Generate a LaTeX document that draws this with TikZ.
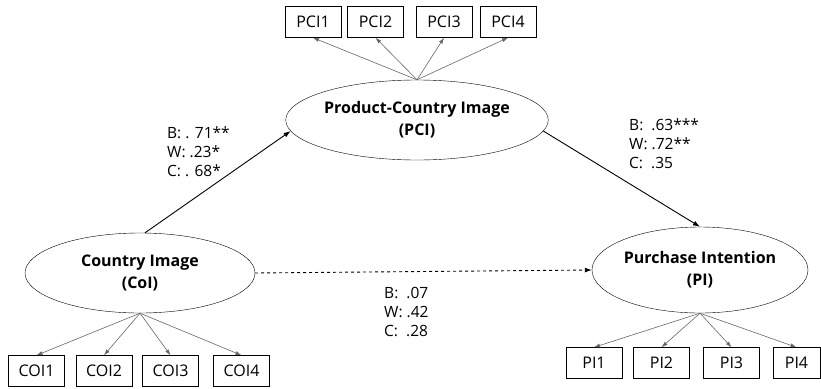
\documentclass[tikz,border=0pt]{standalone}
\usepackage{fontspec}
\setmainfont{Open Sans}
\usetikzlibrary{shapes.geometric,arrows.meta}
\begin{document}
\begin{tikzpicture}[x=1pt,y=-1pt,
    latent/.style={draw,ellipse,inner sep=0pt,font=\fontsize{16}{22}\selectfont\bfseries,align=center},
    item/.style={draw,minimum width=56pt,minimum height=31pt,inner sep=0pt,font=\fontsize{16}{19}\selectfont},
    load/.style={draw=gray!80!black,line width=0.6pt,-{Latex[length=6pt,width=4pt]}},
    path/.style={line width=0.9pt,-{Latex[length=7pt,width=5pt]}},
    coef/.style={anchor=north west,inner sep=0pt,align=left,font=\fontsize{15.5}{19}\selectfont}]
    \useasboundingbox (0,0) rectangle (821,388);
    % latent variables
    \node [latent,minimum width=216pt,minimum height=80pt] (pci) at (417,120) {Product-Country Image\\(PCI)};
    \node [latent,minimum width=230pt,minimum height=80pt] (coi) at (140,273) {Country Image\\(CoI)};
    \node [latent,minimum width=216pt,minimum height=86pt] (pi) at (700,270) {Purchase Intention\\(PI)};
    % indicators
    \node [item] (pci1) at (313,22) {PCI1};
    \node [item] (pci2) at (375.5,22) {PCI2};
    \node [item] (pci3) at (444,22) {PCI3};
    \node [item] (pci4) at (508,22) {PCI4};
    \node [item] (coi1) at (36.5,371) {COI1};
    \node [item] (coi2) at (104,371) {COI2};
    \node [item] (coi3) at (170.5,371) {COI3};
    \node [item] (coi4) at (241.5,371) {COI4};
    \node [item] (pi1) at (594,363) {PI1};
    \node [item] (pi2) at (661.5,363) {PI2};
    \node [item] (pi3) at (731.5,363) {PI3};
    \node [item,minimum width=47pt] (pi4) at (796.5,363) {PI4};
    \draw [load] (pci.north) -- (pci1.south);
    \draw [load] (pci.north) -- (pci2.south);
    \draw [load] (pci.north) -- (pci3.south);
    \draw [load] (pci.north) -- (pci4.south);
    \draw [load] (coi.south) -- (coi1.north);
    \draw [load] (coi.south) -- (coi2.north);
    \draw [load] (coi.south) -- (coi3.north);
    \draw [load] (coi.south) -- (coi4.north);
    \draw [load] (pi.south) -- (pi1.north);
    \draw [load] (pi.south) -- (pi2.north);
    \draw [load] (pi.south) -- (pi3.north);
    \draw [load] (pi.south) -- (pi4.north);
    % structural paths
    \draw [path] (coi.83) -- (pci.185);
    \draw [path] (pci.-5) -- (pi.north);
    \draw [path,dashed] (coi.east) -- (pi.west);
    \node [coef] (bcp) at (167,127) {B: . 71**\\W: .23*\\C: . 68*};
    \node [coef] (bpp) at (629,118.5) {B: \ .63***\\W: .72**\\C: \ .35};
    \node [coef] (bcpi) at (384,287) {B: \ .07\\W: .42\\C: \ .28};
\end{tikzpicture}
\end{document}
